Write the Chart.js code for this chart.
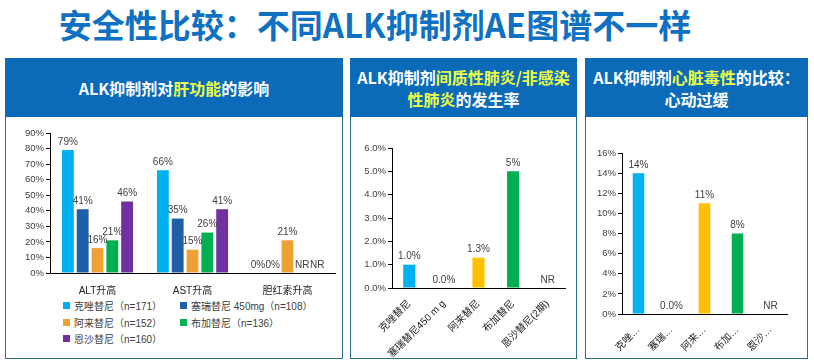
<!DOCTYPE html>
<html>
<head>
<meta charset="utf-8">
<script src="https://cdn.jsdelivr.net/npm/chart.js@4.4.0/dist/chart.umd.min.js"></script>
<style>
  html, body { margin: 0; padding: 0; background: #fff; }
  body { width: 814px; height: 362px; position: relative; overflow: hidden;
         font-family: "Liberation Sans", "Noto Sans CJK SC", sans-serif; }
  .title { position: absolute; left: 0; top: 3px; width: 750px; text-align: center;
           font: bold 33px "Noto Sans CJK SC", sans-serif; color: #1071c2; letter-spacing: 0px; line-height: 42px; }
  .head { position: absolute; top: 58px; height: 59px; background: #0b6bb9; color: #fff;
          font: bold 16px "Noto Sans CJK SC", sans-serif; line-height: 22px; display: flex;
          align-items: center; justify-content: center; text-align: center; box-sizing: border-box; }
  .head em { font-style: normal; color: #eaff4a; }
  .box { position: absolute; top: 117px; height: 242px; border: 1px solid #2a7085; border-top: none; box-sizing: border-box; background: #fff; }
  .cv { position: absolute; }
  #legend { position: absolute; left: 63px; top: 299px; display: grid; grid-template-columns: 117px 150px; row-gap: 3px;
            font-size: 10px; color: #404040; }
  #legend div { display: flex; align-items: center; height: 13.5px; white-space: nowrap; }
  #legend span { display: inline-block; width: 7px; height: 7px; margin-right: 4px; }
</style>
</head>
<body>
<div class="title">安全性比较：不同ALK抑制剂AE图谱不一样</div>

<div class="head" style="left:5px;width:338px;">ALK抑制剂对<em>肝功能</em>的影响</div>
<div class="head" style="left:350px;width:227px;"><div>ALK抑制剂<em>间质性肺炎/非感染<br>性肺炎</em>的发生率</div></div>
<div class="head" style="left:585px;width:223px;"><div>ALK抑制剂<em>心脏毒性</em>的比较：<br>心动过缓</div></div>

<div class="box" style="left:5px;width:338px;"></div>
<div class="box" style="left:350px;width:227px;"></div>
<div class="box" style="left:585px;width:223px;"></div>

<div class="cv" style="left:5px;top:118px;width:338px;height:180px;"><canvas id="liverChart"></canvas></div>
<div id="legend"></div>
<div class="cv" style="left:351px;top:118px;width:225px;height:240px;"><canvas id="ildChart"></canvas></div>
<div class="cv" style="left:586px;top:118px;width:221px;height:240px;"><canvas id="hrChart"></canvas></div>

<script>
// 肝功能
const liverCats = ['ALT升高', 'AST升高', '胆红素升高'];
const drugNames = ['克唑替尼（n=171）', '塞瑞替尼 450mg（n=108）', '阿来替尼（n=152）', '布加替尼（n=136）', '恩沙替尼（n=160）'];
const drugColors = ['#00b0f0', '#1f5fa8', '#eea236', '#00b050', '#7030a0'];
const liverCrizotinib = [79, 66, 0];
const liverCeritinib = [41, 35, 0];
const liverAlectinib = [16, 15, 21];
const liverBrigatinib = [21, 26, null];
const liverEnsartinib = [46, 41, null];

// 间质性肺炎
const ildCats = ['克唑替尼', '塞瑞替尼450 m g', '阿来替尼', '布加替尼', '恩沙替尼(2期)'];
const ildValues = [1.0, 0.0, 1.3, 5, null];
const ildLabels = ['1.0%', '0.0%', '1.3%', '5%', 'NR'];

// 心动过缓
const hrCats = ['克唑…', '塞瑞…', '阿来…', '布加…', '恩沙…'];
const hrValues = [14, 0, 11, 8, null];
const hrLabels = ['14%', '0.0%', '11%', '8%', 'NR'];

const barColors = ['#00b0f0', '#1f5fa8', '#ffc000', '#00b050', '#7030a0'];
const FONT = '"Liberation Sans", "Noto Sans CJK SC", sans-serif';
const TXT = '#404040';

Chart.defaults.font.family = FONT;
Chart.defaults.color = TXT;
Chart.defaults.animation = false;

// 数值标签（空值显示在基线上）
const valueLabels = {
  id: 'valueLabels',
  afterDatasetsDraw(chart, args, opts) {
    const ctx = chart.ctx;
    const yScale = chart.scales.y;
    ctx.save();
    ctx.font = '10px ' + FONT;
    ctx.fillStyle = TXT;
    ctx.textAlign = 'center';
    ctx.textBaseline = 'bottom';
    chart.data.datasets.forEach((ds, di) => {
      chart.getDatasetMeta(di).data.forEach((bar, i) => {
        const v = ds.data[i];
        const y = (v == null || isNaN(bar.y)) ? yScale.getPixelForValue(0) : bar.y;
        ctx.fillText(opts.text(v, di, i), bar.x, y - 3);
      });
    });
    ctx.restore();
  }
};

function axisY(max, step, fmt, width) {
  return {
    min: 0, max: max,
    afterFit: s => { s.width = width; },
    ticks: { stepSize: step, font: { size: 9.5 }, color: TXT, padding: 2, callback: fmt },
    grid: { drawOnChartArea: false, drawTicks: true, tickLength: 4, color: '#000' },
    border: { color: '#000', width: 1 }
  };
}

const liverSeries = [liverCrizotinib, liverCeritinib, liverAlectinib, liverBrigatinib, liverEnsartinib];

new Chart(document.getElementById('liverChart'), {
  type: 'bar',
  data: {
    labels: liverCats,
    datasets: liverSeries.map((d, i) => ({
      label: drugNames[i], data: d, backgroundColor: drugColors[i],
      barPercentage: 0.8, categoryPercentage: 0.78
    }))
  },
  options: {
    responsive: true, maintainAspectRatio: false,
    layout: { padding: { left: 5, top: 15, right: 8, bottom: 0 } },
    plugins: {
      legend: { display: false }, tooltip: { enabled: false },
      valueLabels: { text: v => v == null ? 'NR' : v + '%' }
    },
    scales: {
      x: {
        afterFit: s => { s.height = 25; },
        ticks: { font: { size: 10 }, color: '#222', padding: 4 },
        grid: { display: false },
        border: { color: '#000', width: 1 }
      },
      y: axisY(90, 10, v => v + '%', 40)
    }
  },
  plugins: [valueLabels]
});

document.getElementById('legend').innerHTML = drugNames
  .map((n, i) => `<div><span style="background:${drugColors[i]}"></span>${n}</div>`).join('');

function singleChart(id, cats, values, labels, max, step, fmt, yWidth, pad, xHeight) {
  new Chart(document.getElementById(id), {
    type: 'bar',
    data: {
      labels: cats,
      datasets: [{ data: values, backgroundColor: barColors, barPercentage: 0.35, categoryPercentage: 1 }]
    },
    options: {
      responsive: true, maintainAspectRatio: false,
      layout: { padding: pad },
      plugins: {
        legend: { display: false }, tooltip: { enabled: false },
        valueLabels: { text: (v, di, i) => labels[i] }
      },
      scales: {
        x: {
          afterFit: s => { s.height = xHeight; },
          ticks: { font: { size: 10 }, color: '#222', minRotation: 45, maxRotation: 45, padding: 2, autoSkip: false },
          grid: { display: false },
          border: { color: '#000', width: 1 }
        },
        y: axisY(max, step, fmt, yWidth)
      }
    },
    plugins: [valueLabels]
  });
}

singleChart('ildChart', ildCats, ildValues, ildLabels, 6, 1, v => v.toFixed(1) + '%', 36,
  { left: 5, top: 30, right: 11, bottom: 0 }, 70);
singleChart('hrChart', hrCats, hrValues, hrLabels, 16, 2, v => v + '%', 32,
  { left: 4, top: 35, right: 20, bottom: 0 }, 44);
</script>
</body>
</html>
